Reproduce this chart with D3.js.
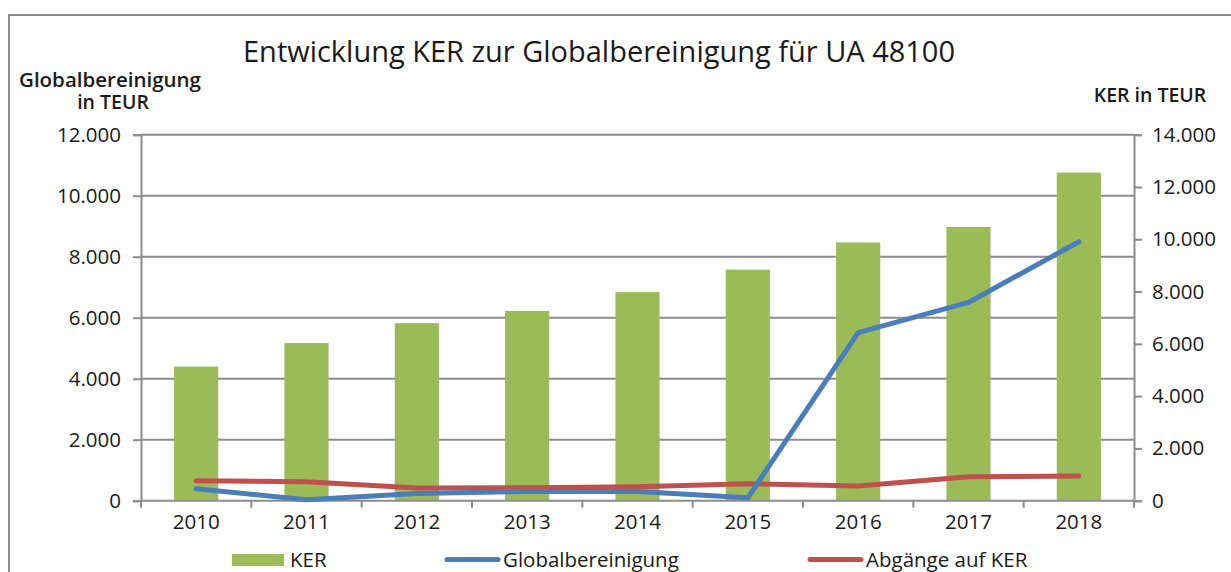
<!DOCTYPE html>
<html><head><meta charset="utf-8">
<script src="https://cdn.jsdelivr.net/npm/d3@7"></script>
<style>
html,body{margin:0;padding:0;background:#fff;}
svg text{font-family:"Open Sans",sans-serif;fill:#1a1a1a;}
</style></head>
<body>
<svg id="chart" width="1231" height="572"></svg>
<script>
const years = ["2010","2011","2012","2013","2014","2015","2016","2017","2018"];
const kerValues = [5130, 6030, 6790, 7260, 7980, 8840, 9880, 10470, 12550];
const globalValues = [390, 30, 240, 305, 300, 100, 5510, 6500, 8490];
const abgaengeValues = [765, 727, 485, 500, 530, 650, 562, 918, 945];
const leftTicks = [0, 2000, 4000, 6000, 8000, 10000, 12000];
const rightTicks = [0, 2000, 4000, 6000, 8000, 10000, 12000, 14000];

const svg = d3.select("#chart");
const gray = "#8c8c8c";
const X0 = 141, X1 = 1134, YT = 134.7, YB = 500.7;

const fmt = v => d3.format(",")(v).replace(/,/g, ".");

const x = d3.scaleBand().domain(years).range([X0, X1]).paddingInner(0.6).paddingOuter(0.3);
const yL = d3.scaleLinear().domain([0, 12000]).range([YB, YT]);
const yR = d3.scaleLinear().domain([0, 14000]).range([YB, YT]);
const step = x.step();

// outer frame
svg.append("path").attr("d", "M9,572 L9,15 L1231,15").attr("fill", "none").attr("stroke", gray).attr("stroke-width", 2);

// gridlines
svg.append("g").selectAll("line").data(leftTicks.filter(d => d > 0)).join("line")
  .attr("x1", X0).attr("x2", X1).attr("y1", d => yL(d)).attr("y2", d => yL(d))
  .attr("stroke", gray).attr("stroke-width", 2);

// bars
svg.append("g").selectAll("rect").data(years).join("rect")
  .attr("x", d => x(d)).attr("width", x.bandwidth())
  .attr("y", (d, i) => yR(kerValues[i])).attr("height", (d, i) => YB - yR(kerValues[i]))
  .attr("fill", "#9bbb59");

// left axis
const gL = svg.append("g").attr("transform", `translate(${X0},0)`)
  .call(d3.axisLeft(yL).tickValues(leftTicks).tickFormat(fmt).tickSize(8).tickPadding(12));
// right axis
const gR = svg.append("g").attr("transform", `translate(${X1},0)`)
  .call(d3.axisRight(yR).tickValues(rightTicks).tickFormat(fmt).tickSize(8).tickPadding(10));
// bottom axis
const gB = svg.append("g").attr("transform", `translate(0,${YB})`)
  .call(d3.axisBottom(x).tickSize(0).tickPadding(22));
[gL, gR, gB].forEach(g => {
  g.selectAll("path.domain").attr("stroke", gray).attr("stroke-width", 2);
  g.selectAll(".tick line").attr("stroke", gray).attr("stroke-width", 2);
  g.selectAll("text").attr("font-size", 20.5).attr("font-family", "Open Sans").attr("fill", "#1a1a1a");
});
gB.select("path.domain").remove();
svg.append("line").attr("x1", X0 - 1).attr("x2", X1 + 1).attr("y1", YB).attr("y2", YB).attr("stroke", gray).attr("stroke-width", 2);
// category separator ticks
const bounds = d3.range(years.length + 1).map(i => X0 + i * step);
svg.append("g").selectAll("line").data(bounds).join("line")
  .attr("x1", d => d).attr("x2", d => d).attr("y1", YB).attr("y2", YB + 7)
  .attr("stroke", gray).attr("stroke-width", 2);
gB.selectAll("text").attr("dy", "0.3em");

// lines
const cx = d => x(d) + x.bandwidth() / 2;
const lineG = d3.line().x((d, i) => cx(years[i])).y(d => yL(d));
const lineR = d3.line().x((d, i) => cx(years[i])).y(d => yR(d));
svg.append("path").datum(abgaengeValues).attr("d", lineR).attr("fill", "none")
  .attr("stroke", "#c0504d").attr("stroke-width", 5).attr("stroke-linecap", "round").attr("stroke-linejoin", "round");
svg.append("path").datum(globalValues).attr("d", lineG).attr("fill", "none")
  .attr("stroke", "#4a7ebb").attr("stroke-width", 5).attr("stroke-linecap", "round").attr("stroke-linejoin", "round");

// title
svg.append("text").attr("x", 243).attr("y", 62).attr("font-size", 29)
  .attr("textLength", 712).attr("lengthAdjust", "spacingAndGlyphs")
  .text("Entwicklung KER zur Globalbereinigung für UA 48100");

// axis titles (left one as a single two-line text)
const lt = svg.append("text").attr("font-size", 19.5).attr("font-weight", 600);
lt.append("tspan").attr("x", 19).attr("y", 86.5)
  .attr("textLength", 182).attr("lengthAdjust", "spacingAndGlyphs").text("Globalbereinigung");
lt.append("tspan").attr("x", 113).attr("y", 108.5).attr("text-anchor", "middle").text("in TEUR");
svg.append("text").attr("x", 1150).attr("y", 102).attr("text-anchor", "middle")
  .attr("font-size", 19.5).attr("font-weight", 600).text("KER in TEUR");

// legend
const legend = [
  {name: "KER", type: "rect", color: "#9bbb59", x: 232},
  {name: "Globalbereinigung", type: "line", color: "#4a7ebb", x: 445},
  {name: "Abgänge auf KER", type: "line", color: "#c0504d", x: 808}
];
const lg = svg.append("g");
legend.forEach(l => {
  if (l.type === "rect") {
    lg.append("rect").attr("x", l.x).attr("y", 554).attr("width", 52).attr("height", 12).attr("fill", l.color);
  } else {
    lg.append("line").attr("x1", l.x + 2).attr("x2", l.x + 53).attr("y1", 559.5).attr("y2", 559.5)
      .attr("stroke", l.color).attr("stroke-width", 5).attr("stroke-linecap", "round");
  }
  lg.append("text").attr("x", l.x + 58).attr("y", 566.5).attr("font-size", 20.5).text(l.name);
});
</script>
</body></html>
